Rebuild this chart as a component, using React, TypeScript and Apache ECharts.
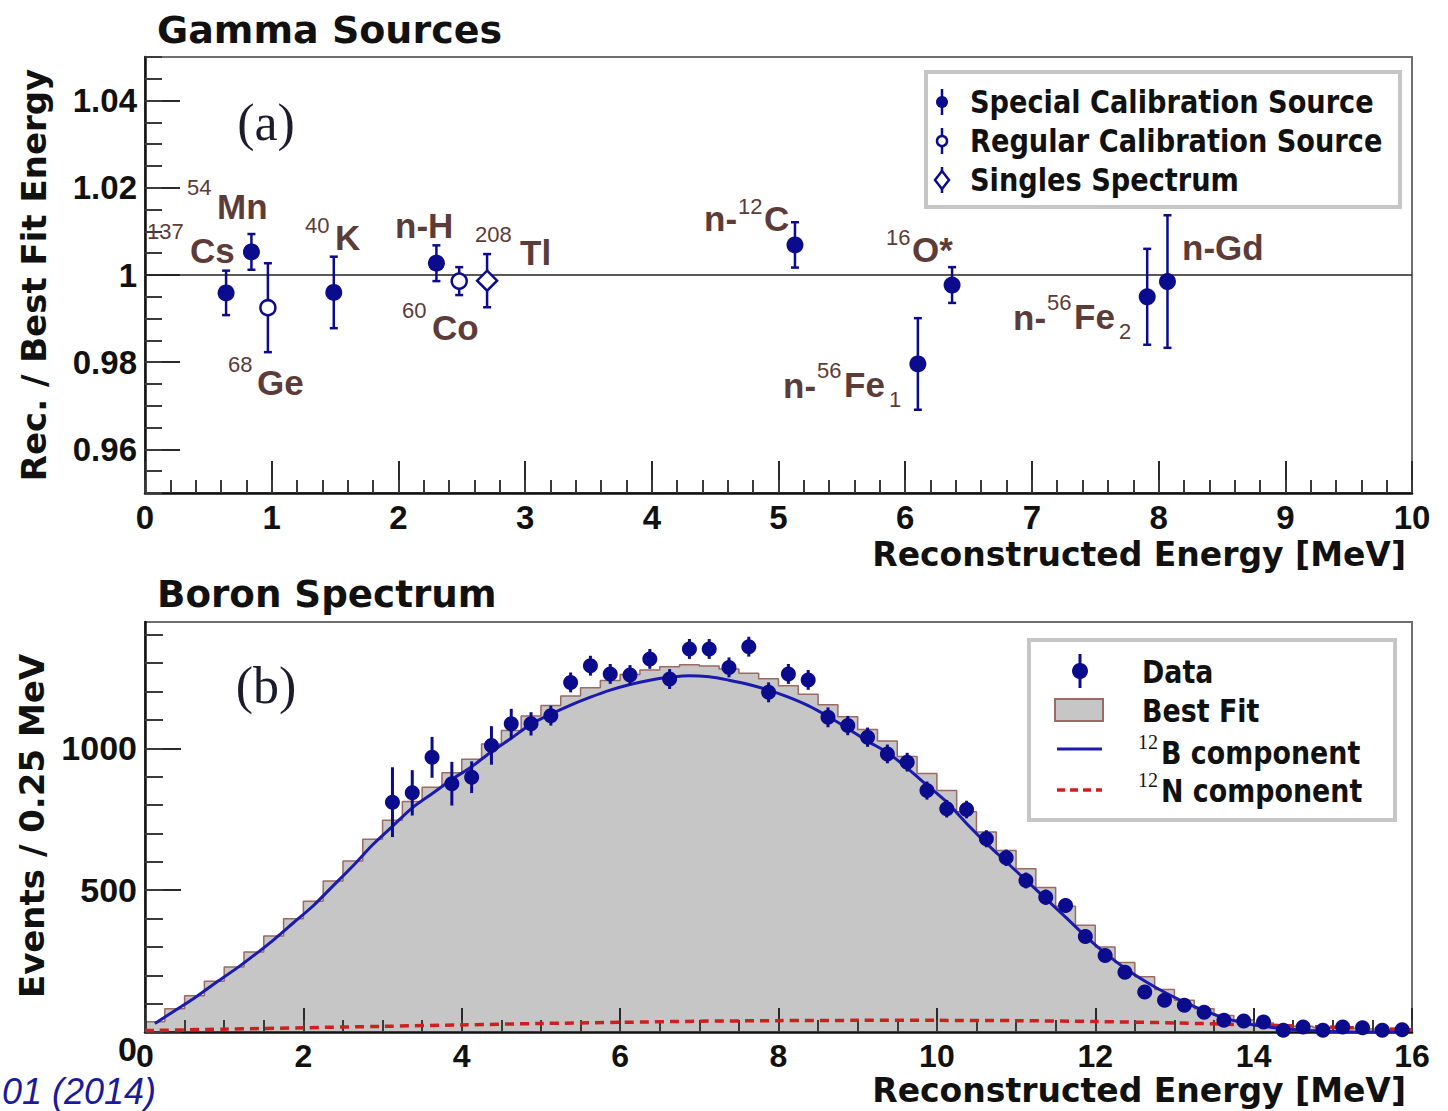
import React, { useEffect, useRef } from "react";
import * as echarts from "echarts";

// ================= Panel (a): Gamma Sources =================
const specialNames = ["137Cs", "54Mn", "40K", "n-H", "n-12C", "n-56Fe1", "16O*", "n-56Fe2", "n-Gd"];
const specialEnergy = [0.64, 0.84, 1.49, 2.3, 5.13, 6.1, 6.37, 7.91, 8.07];
const specialRatio = [0.9959, 1.0053, 0.996, 1.0027, 1.0069, 0.9796, 0.9977, 0.995, 0.9985];
const specialError = [0.0051, 0.0041, 0.0082, 0.0041, 0.0052, 0.0105, 0.0041, 0.011, 0.0152];

const regularNames = ["68Ge", "60Co"];
const regularEnergy = [0.97, 2.48];
const regularRatio = [0.9925, 0.9986];
const regularError = [0.0102, 0.0032];

const singlesNames = ["208Tl"];
const singlesEnergy = [2.7];
const singlesRatio = [0.9987];
const singlesError = [0.0061];

const topXTickLabels = [0, 1, 2, 3, 4, 5, 6, 7, 8, 9, 10];
const topYTickLabels = [0.96, 0.98, 1, 1.02, 1.04];

// ================= Panel (b): Boron Spectrum =================
const binWidth = 0.25;
const dataFirstBinLow = 3.0;
const dataCounts = [
  810, 843, 968, 875, 898, 1010, 1086, 1086, 1115,
  1232, 1291, 1262, 1258, 1315, 1244, 1350, 1350, 1285, 1358, 1197, 1262,
  1241, 1109, 1080, 1039, 980, 951, 851, 787, 784,
  681, 614, 534, 475, 446, 337, 270, 211, 141, 112,
  94, 70, 41, 39, 35, 6, 18, 6, 18, 15, 6, 8,
];
const dataErrors = [
  123, 80, 72, 77, 56, 68, 53, 41, 35,
  35, 35, 35, 35, 35, 35, 35, 35, 35, 35, 35, 35,
  35, 35, 34, 34, 33, 33, 32, 31, 31,
  30, 29, 28, 27, 26, 24, 22, 20, 18, 16,
  15, 13, 11, 11, 10, 8, 8, 8, 8, 8, 8, 8,
];
const fitCounts = [
  36, 82, 128, 179, 229, 282, 338, 399, 461, 532, 603, 679,
  746, 812, 863, 914, 961, 1015, 1063, 1114, 1151, 1184, 1213, 1239,
  1260, 1276, 1287, 1294, 1290, 1279, 1264, 1245, 1220, 1190, 1153, 1111,
  1066, 1026, 971, 911, 851, 776, 705, 640, 575, 509, 443, 376,
  300, 245, 195, 150, 112, 82, 58, 42, 32, 25, 20, 16, 13, 11, 9, 7,
];
const b12Counts = [
  30, 75, 120, 170, 218, 270, 325, 385, 445, 515, 585, 660,
  725, 790, 840, 890, 935, 988, 1035, 1085, 1120, 1152, 1180, 1205,
  1225, 1240, 1250, 1256, 1252, 1240, 1225, 1205, 1180, 1150, 1112, 1070,
  1025, 985, 930, 870, 810, 735, 665, 600, 535, 470, 405, 338,
  278, 225, 180, 140, 105, 75, 50, 32, 20, 12, 6, 3, 1, 0, 0, 0,
];
const n12Energy = [0, 1, 2, 3, 4, 5, 6, 7, 8, 9, 10, 11, 12, 13, 14, 15, 16];
const n12Counts = [5, 10, 15, 20, 25, 30, 34, 38, 40, 41, 41, 40, 37, 32, 25, 17, 8];

const bottomXTickLabels = [0, 2, 4, 6, 8, 10, 12, 14, 16];
const bottomYTickLabels = [0, 500, 1000];

const legendATexts = ["Special Calibration Source", "Regular Calibration Source", "Singles Spectrum"];
const legendBTexts = ["Data", "Best Fit", "B component", "N component"];

// ================= styles =================
const BLUE = "#0b0b8e";
const CURVE_BLUE = "#1a1aae";
const RED = "#cc2020";
const LABEL_BROWN = "#5b3c39";
const FIT_FILL = "#c6c6c6";
const FIT_LINE = "#9b6a62";
const INK = "#111111";
const SANS = '"DejaVu Sans", sans-serif';
const TICKF = '"Liberation Sans", Arial, sans-serif';
const SERIF = '"Liberation Serif", serif';

function steps(a: number, b: number, step: number, digits: number) {
  const out: number[] = [];
  const n = Math.round((b - a) / step);
  for (let i = 0; i <= n; i++) out.push(+(a + i * step).toFixed(digits));
  return out;
}

function gText(text: string, x: number, y: number, o: any) {
  return {
    type: "text",
    x,
    y,
    scaleX: o.scaleX ?? 1,
    rotation: o.rotation ?? 0,
    z: 100,
    silent: true,
    style: {
      text,
      fill: o.color ?? INK,
      font: `${o.fstyle ?? "normal"} ${o.weight ?? "normal"} ${o.size}px ${o.family ?? SANS}`,
      textAlign: o.align ?? "left",
      textVerticalAlign: o.valign ?? "middle",
    },
  };
}

function gLine(x1: number, y1: number, x2: number, y2: number, stroke: string, w: number, dash?: number[]) {
  return {
    type: "line",
    z: 100,
    silent: true,
    shape: { x1, y1, x2, y2 },
    style: { stroke, lineWidth: w, lineDash: dash },
  };
}

function errorBars(color: string, width: number, cap: number) {
  return (params: any, api: any) => {
    const x = api.value(0);
    const y = api.value(1);
    const e = api.value(2);
    const p1 = api.coord([x, y + e]);
    const p2 = api.coord([x, y - e]);
    const st = { stroke: color, lineWidth: width };
    const children: any[] = [
      { type: "line", shape: { x1: p1[0], y1: p1[1], x2: p2[0], y2: p2[1] }, style: st },
    ];
    if (cap > 0) {
      children.push({ type: "line", shape: { x1: p1[0] - cap, y1: p1[1], x2: p1[0] + cap, y2: p1[1] }, style: st });
      children.push({ type: "line", shape: { x1: p2[0] - cap, y1: p2[1], x2: p2[0] + cap, y2: p2[1] }, style: st });
    }
    return { type: "group", children };
  };
}

function majorAxis(grid: number, min: number, max: number, pos: string, ticks: number[], len: number, fs: number, extraLabel: any = {}) {
  return {
    type: "value",
    gridIndex: grid,
    position: pos,
    min,
    max,
    z: 3,
    axisLine: { show: true, onZero: false, lineStyle: { color: INK, width: 2.5 } },
    axisTick: { show: true, inside: true, length: len, customValues: ticks, lineStyle: { color: "#2a2a2a", width: 2 } },
    axisLabel: {
      show: true,
      customValues: ticks,
      margin: 8,
      fontFamily: TICKF,
      fontWeight: "bold",
      fontSize: fs,
      color: INK,
      formatter: (v: number) => String(v),
      ...extraLabel,
    },
    splitLine: { show: false },
  };
}

function minorAxis(grid: number, min: number, max: number, pos: string, ticks: number[], len: number) {
  return {
    type: "value",
    gridIndex: grid,
    position: pos,
    min,
    max,
    z: 3,
    axisLine: { show: false, onZero: false },
    axisTick: { show: true, inside: true, length: len, customValues: ticks, lineStyle: { color: "#3a3a3a", width: 2 } },
    axisLabel: { show: false },
    splitLine: { show: false },
  };
}

// label layout (annotation positions, px)
const isotopeLabelParts: [string, number, number, string][] = [
  ["137", 147, 231, "sup"], ["Cs", 190, 250, "main"],
  ["54", 187, 187, "sup"], ["Mn", 217, 206, "main"],
  ["68", 228, 364, "sup"], ["Ge", 257, 382, "main"],
  ["40", 305, 225, "sup"], ["K", 335, 237, "main"],
  ["n-H", 395, 225, "main"],
  ["208", 475, 234, "sup"], ["Tl", 520, 252, "main"],
  ["60", 402, 310, "sup"], ["Co", 432, 327, "main"],
  ["n-", 704, 218, "main"], ["12", 738, 206, "sup"], ["C", 764, 218, "main"],
  ["16", 886, 237, "sup"], ["O*", 912, 249, "main"],
  ["n-Gd", 1182, 247, "main"],
  ["n-", 1013, 317, "main"], ["56", 1047, 302, "sup"], ["Fe", 1074, 316, "main"], ["2", 1119, 331, "sub"],
  ["n-", 783, 385, "main"], ["56", 817, 370, "sup"], ["Fe", 844, 384, "main"], ["1", 889, 399, "sub"],
];

function buildOption() {
  const topXMinor = steps(0, 10, 0.2, 1);
  const topYMinor = steps(0.95, 1.05, 0.005, 3);
  const botXMinor = steps(0, 16, 0.5, 1);
  const botYMinor = steps(0, 1400, 100, 0);

  const special = specialEnergy.map((e, i) => [e, specialRatio[i], specialError[i]]);
  const regular = regularEnergy.map((e, i) => [e, regularRatio[i], regularError[i]]);
  const singles = singlesEnergy.map((e, i) => [e, singlesRatio[i], singlesError[i]]);

  const dataPts = dataCounts.map((v, i) => [dataFirstBinLow + (i + 0.5) * binWidth, v, dataErrors[i]]);
  const fitStep = fitCounts.map((v, i) => [i * binWidth, v]);
  fitStep.push([fitCounts.length * binWidth, fitCounts[fitCounts.length - 1]]);
  const b12Pts = b12Counts.map((v, i) => [(i + 0.5) * binWidth, v]);
  const n12Pts = n12Energy.map((e, i) => [e, n12Counts[i]]);

  const graphic: any[] = [];
  // titles
  graphic.push(gText("Gamma Sources", 157, 30, { size: 38, weight: "bold" }));
  graphic.push(gText("Boron Spectrum", 157, 594, { size: 38, weight: "bold", scaleX: 0.98 }));
  // axis titles
  graphic.push(gText("Reconstructed Energy [MeV]", 1406, 554, { size: 33, weight: "bold", align: "right" }));
  graphic.push(gText("Reconstructed Energy [MeV]", 1406, 1090, { size: 33, weight: "bold", align: "right" }));
  graphic.push(gText("Rec. / Best Fit Energy", 34, 275, { size: 34, weight: "bold", align: "center", rotation: Math.PI / 2 }));
  graphic.push(gText("Events / 0.25 MeV", 32, 826, { size: 34, weight: "bold", align: "center", rotation: Math.PI / 2 }));
  // panel letters
  graphic.push(gText("(a)", 266, 122, { size: 52, family: SERIF, align: "center", color: "#1c1c2c" }));
  graphic.push(gText("(b)", 266, 685, { size: 52, family: SERIF, align: "center", color: "#1c1c2c" }));
  // isotope labels
  isotopeLabelParts.forEach(([t, x, y, kind]) => {
    const isMain = kind === "main";
    graphic.push(
      gText(t, x, y, {
        size: isMain ? 35 : 22,
        weight: isMain ? "bold" : "normal",
        family: TICKF,
        color: LABEL_BROWN,
      })
    );
  });

  // legend (a)
  graphic.push({ type: "rect", z: 99, silent: true, shape: { x: 926, y: 72, width: 474, height: 135 }, style: { fill: "#fff", stroke: "#c6c6c6", lineWidth: 4 } });
  const rowsA = [102, 141, 180];
  graphic.push(gLine(942, rowsA[0] - 13, 942, rowsA[0] + 13, BLUE, 2.5));
  graphic.push({ type: "circle", z: 101, silent: true, shape: { cx: 942, cy: rowsA[0], r: 6 }, style: { fill: BLUE } });
  graphic.push(gLine(942, rowsA[1] - 13, 942, rowsA[1] + 13, BLUE, 2.5));
  graphic.push({ type: "circle", z: 101, silent: true, shape: { cx: 942, cy: rowsA[1], r: 5 }, style: { fill: "#fff", stroke: BLUE, lineWidth: 2.5 } });
  graphic.push(gLine(942, rowsA[2] - 13, 942, rowsA[2] + 13, BLUE, 2.5));
  graphic.push({
    type: "polygon", z: 101, silent: true,
    shape: { points: [[942, rowsA[2] - 9], [949, rowsA[2]], [942, rowsA[2] + 9], [935, rowsA[2]]] },
    style: { fill: "#fff", stroke: BLUE, lineWidth: 2.5 },
  });
  legendATexts.forEach((t, i) => graphic.push(gText(t, 970, rowsA[i], { size: 32, weight: "bold", scaleX: 0.85 })));

  // legend (b)
  graphic.push({ type: "rect", z: 99, silent: true, shape: { x: 1029, y: 640, width: 366, height: 180 }, style: { fill: "#fff", stroke: "#c6c6c6", lineWidth: 4 } });
  graphic.push(gLine(1080, 654, 1080, 688, BLUE, 3));
  graphic.push({ type: "circle", z: 101, silent: true, shape: { cx: 1080, cy: 671, r: 8 }, style: { fill: BLUE } });
  graphic.push({ type: "rect", z: 101, silent: true, shape: { x: 1055, y: 699, width: 48, height: 22 }, style: { fill: FIT_FILL, stroke: FIT_LINE, lineWidth: 2 } });
  graphic.push(gLine(1057, 749, 1102, 749, CURVE_BLUE, 3));
  graphic.push(gLine(1057, 790, 1102, 790, RED, 3.5, [8, 5]));
  graphic.push(gText(legendBTexts[0], 1142, 672, { size: 32, weight: "bold", scaleX: 0.84 }));
  graphic.push(gText(legendBTexts[1], 1142, 711, { size: 32, weight: "bold", scaleX: 0.84 }));
  graphic.push(gText("12", 1138, 742, { size: 20, family: SERIF }));
  graphic.push(gText(legendBTexts[2], 1161, 753, { size: 32, weight: "bold", scaleX: 0.84 }));
  graphic.push(gText("12", 1138, 780, { size: 20, family: SERIF }));
  graphic.push(gText(legendBTexts[3], 1161, 791, { size: 32, weight: "bold", scaleX: 0.84 }));

  // citation fragment at bottom-left
  graphic.push(gText("01 (2014)", 2, 1109, { size: 36, fstyle: "italic", family: TICKF, color: "#1a1a9c", valign: "bottom" }));

  return {
    animation: false,
    backgroundColor: "#ffffff",
    grid: [
      { left: 145, top: 57, width: 1267, height: 436, show: true, borderColor: "#6e6e6e", borderWidth: 2, backgroundColor: "transparent" },
      { left: 145, top: 622, width: 1267, height: 410, show: true, borderColor: "#6e6e6e", borderWidth: 2, backgroundColor: "transparent" },
    ],
    xAxis: [
      majorAxis(0, 0, 10, "bottom", topXTickLabels, 32, 33),
      minorAxis(0, 0, 10, "bottom", topXMinor, 13),
      majorAxis(1, 0, 16, "bottom", bottomXTickLabels, 24, 32),
      minorAxis(1, 0, 16, "bottom", botXMinor, 12),
    ],
    yAxis: [
      majorAxis(0, 0.95, 1.05, "left", topYTickLabels, 35, 33),
      minorAxis(0, 0.95, 1.05, "left", topYMinor, 17),
      majorAxis(1, 0, 1445, "left", bottomYTickLabels, 36, 34, { verticalAlignMinLabel: "top" }),
      minorAxis(1, 0, 1445, "left", botYMinor, 18),
    ],
    series: [
      // ---------- panel (a) ----------
      {
        name: "Special Calibration Source errors",
        type: "custom",
        xAxisIndex: 0,
        yAxisIndex: 0,
        z: 6,
        data: special,
        renderItem: errorBars(BLUE, 2.5, 4),
      },
      {
        name: "Regular Calibration Source errors",
        type: "custom",
        xAxisIndex: 0,
        yAxisIndex: 0,
        z: 6,
        data: regular,
        renderItem: errorBars(BLUE, 2.5, 4),
      },
      {
        name: "Singles Spectrum errors",
        type: "custom",
        xAxisIndex: 0,
        yAxisIndex: 0,
        z: 6,
        data: singles,
        renderItem: errorBars(BLUE, 2.5, 4),
      },
      {
        name: "Special Calibration Source",
        type: "scatter",
        xAxisIndex: 0,
        yAxisIndex: 0,
        z: 7,
        symbol: "circle",
        symbolSize: 17,
        itemStyle: { color: BLUE, opacity: 1 },
        data: special.map((d, i) => ({ name: specialNames[i], value: [d[0], d[1]] })),
        markLine: {
          silent: true,
          symbol: ["none", "none"],
          label: { show: false },
          lineStyle: { color: "#222", width: 1.5, type: "solid" },
          data: [{ yAxis: 1 }],
        },
      },
      {
        name: "Regular Calibration Source",
        type: "scatter",
        xAxisIndex: 0,
        yAxisIndex: 0,
        z: 7,
        symbol: "circle",
        symbolSize: 15,
        itemStyle: { color: "#ffffff", borderColor: BLUE, borderWidth: 2.5, opacity: 1 },
        data: regular.map((d, i) => ({ name: regularNames[i], value: [d[0], d[1]] })),
      },
      {
        name: "Singles Spectrum",
        type: "scatter",
        xAxisIndex: 0,
        yAxisIndex: 0,
        z: 7,
        symbol: "diamond",
        symbolSize: [20, 20],
        itemStyle: { color: "#ffffff", borderColor: BLUE, borderWidth: 2.5, opacity: 1 },
        data: singles.map((d, i) => ({ name: singlesNames[i], value: [d[0], d[1]] })),
      },
      // ---------- panel (b) ----------
      {
        name: "Best Fit",
        type: "line",
        xAxisIndex: 2,
        yAxisIndex: 2,
        z: 1,
        step: "end",
        symbol: "none",
        data: fitStep,
        lineStyle: { color: FIT_LINE, width: 1.5 },
        areaStyle: { color: FIT_FILL, opacity: 1 },
      },
      {
        name: "12N component",
        type: "line",
        xAxisIndex: 2,
        yAxisIndex: 2,
        z: 5,
        smooth: 0.3,
        symbol: "none",
        data: n12Pts,
        lineStyle: { color: RED, width: 3.5, type: [9, 6] },
      },
      {
        name: "12B component",
        type: "line",
        xAxisIndex: 2,
        yAxisIndex: 2,
        z: 5,
        smooth: 0.3,
        symbol: "none",
        data: b12Pts,
        lineStyle: { color: CURVE_BLUE, width: 3 },
      },
      {
        name: "Data errors",
        type: "custom",
        xAxisIndex: 2,
        yAxisIndex: 2,
        z: 6,
        data: dataPts,
        renderItem: errorBars(BLUE, 3, 0),
      },
      {
        name: "Data",
        type: "scatter",
        xAxisIndex: 2,
        yAxisIndex: 2,
        z: 7,
        symbol: "circle",
        symbolSize: 15,
        itemStyle: { color: BLUE, opacity: 1 },
        data: dataPts.map((d) => [d[0], d[1]]),
      },
    ],
    graphic,
  };
}

export default function App() {
  const ref = useRef<HTMLDivElement>(null);
  useEffect(() => {
    if (!ref.current) return;
    const chart = echarts.init(ref.current, undefined, { renderer: "svg", width: 1448, height: 1111 });
    chart.setOption(buildOption() as any);
    return () => {
      chart.dispose();
    };
  }, []);
  return (
    <div
      ref={ref}
      style={{ position: "fixed", left: 0, top: 0, width: 1448, height: 1111, background: "#fff" }}
    />
  );
}
